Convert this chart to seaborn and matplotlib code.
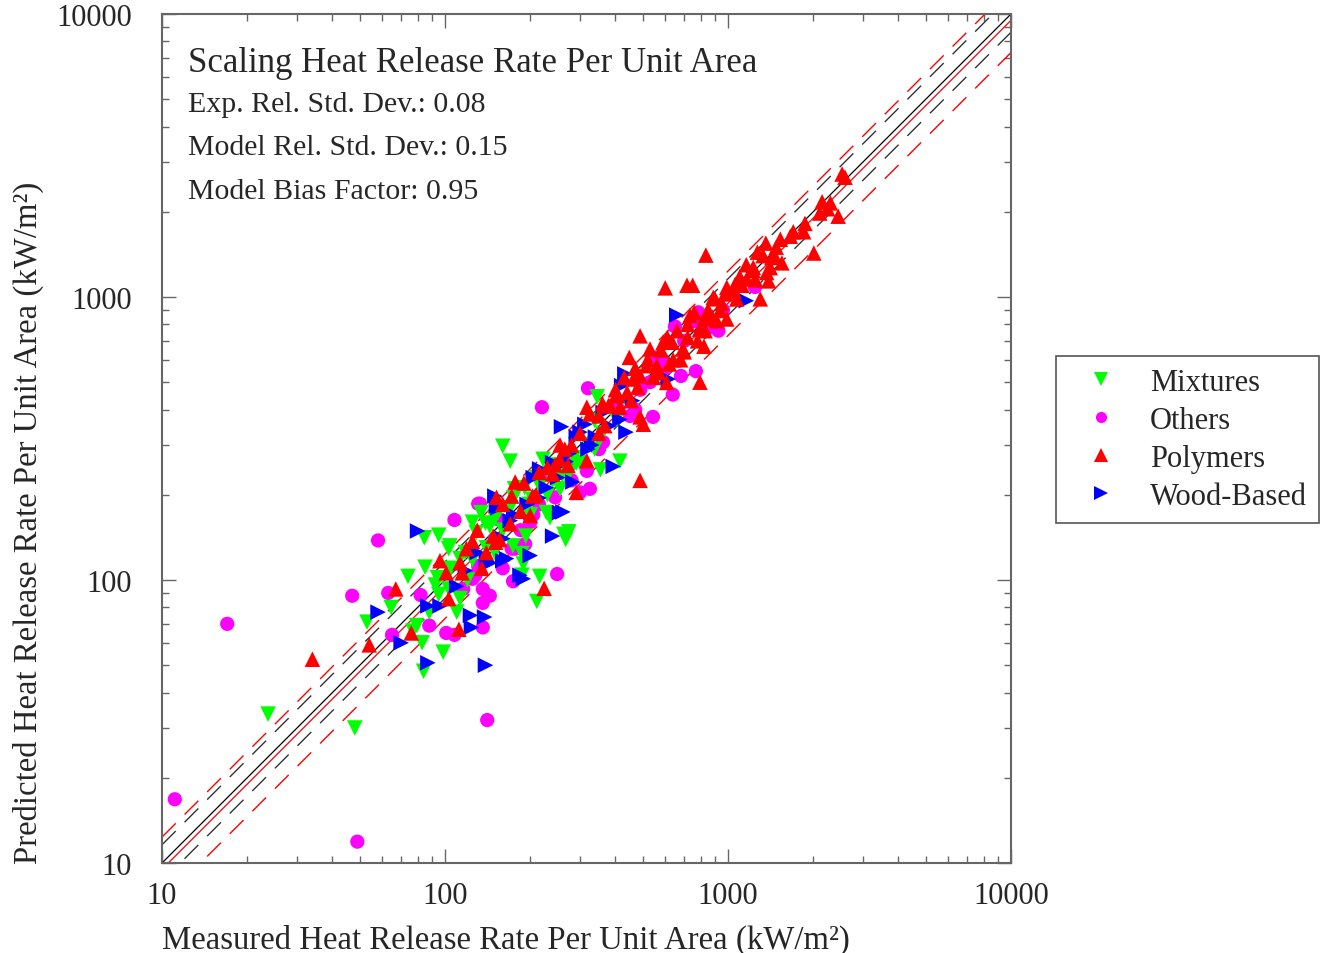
import numpy as np
import pandas as pd
import matplotlib
matplotlib.use("Agg")
import matplotlib.pyplot as plt
from matplotlib.ticker import NullFormatter
import seaborn as sns

# Heat release rate per unit area, kW/m² (measured vs. predicted)
mixtures_measured = [23.7, 48, 53, 64.5, 74, 84.5, 95, 85, 94, 92.5,
                     103, 95, 88, 110, 113, 79.5, 83, 77, 98.5, 84,
                     103, 113, 134, 139, 125, 129, 154, 174, 189, 187,
                     160, 170, 211, 216, 267, 274, 345, 415, 354, 338,
                     104, 193, 235, 263, 222, 216, 191, 204, 228, 291,
                     400, 144, 187, 338, 404, 118, 150, 245, 198, 285,
                     176, 260, 105, 125, 140, 160, 170, 200, 210, 230,
                     240, 255, 275, 300, 320, 360, 150, 120, 175, 265]
mixtures_predicted = [33.6, 30, 71, 80, 103, 141, 144, 111, 102, 96,
                      93, 89, 77, 77, 86, 69, 60, 66, 55.6, 47.6,
                      129, 119, 173, 159, 160, 147, 173, 132, 114, 124,
                      297, 263, 84, 103, 139, 148, 444, 263, 245, 290,
                      132, 143, 166, 145, 267, 215, 212, 193, 173, 259,
                      380, 155, 104, 366, 369, 125, 165, 255, 185, 270,
                      210, 235, 110, 118, 130, 150, 180, 170, 230, 200,
                      225, 210, 240, 260, 300, 330, 125, 100, 195, 275]

others_measured = [11.1, 17, 49, 58, 47, 141, 220, 249, 63, 65,
                   108, 320, 638, 682, 770, 543, 583, 785, 793, 925,
                   1245, 649, 560, 82, 88, 101, 108, 131, 116, 125,
                   136, 144, 136, 136, 131, 174, 172, 362, 317, 325,
                   300, 245, 133, 154, 192, 177, 128, 451, 205, 270,
                   410, 490, 150, 185, 215, 230, 280, 350, 400, 470,
                   530, 600, 700, 750, 860, 960, 160, 200]
others_predicted = [16.8, 70, 11.9, 138, 88, 32, 408, 105, 90, 64,
                    163, 476, 452, 526, 547, 377, 604, 883, 812, 760,
                    1085, 787, 612, 88.5, 69, 65, 64, 186, 93, 101,
                    93, 88, 83, 68, 112, 99, 129, 307, 243, 210,
                    204, 196, 186, 164, 134, 129, 104, 380, 170, 260,
                    400, 470, 140, 150, 185, 240, 225, 290, 420, 400,
                    500, 560, 700, 820, 780, 900, 110, 160]

polymers_measured = [34, 54, 224, 489, 835, 600, 716, 750, 796, 1300,
                     2010, 2450, 2530, 2590, 2150, 2110, 1870, 1660, 1530, 1550,
                     1470, 1360, 1270, 1160, 1226, 1100, 1060, 1410, 976, 900,
                     880, 823, 937, 793, 489, 448, 530, 590, 635, 693,
                     822, 734, 887, 990, 1073, 990, 912, 1228, 1370, 1164,
                     1390, 1430, 560, 489, 516, 463, 408, 415, 455, 383,
                     325, 367, 489, 502, 607, 317, 378, 405, 317, 291,
                     272, 254, 240, 177, 172, 152, 204, 200, 170, 148,
                     119, 113, 101, 140, 67, 96, 115, 103, 112, 76,
                     125, 156, 151, 2250, 1700, 640, 700, 350, 280, 230,
                     430, 470, 520, 545, 610, 660, 720, 760, 850, 950,
                     1050, 680, 580, 400, 360, 300, 265, 245, 215, 190,
                     185, 160, 130, 135, 210, 255, 350, 440, 480, 570,
                     620, 720, 780, 830, 1120, 1250, 1330, 1480, 1850, 2300]
polymers_predicted = [52.5, 59, 93.5, 225, 1406, 1077, 1100, 1100, 500, 985,
                      1430, 1930, 2720, 2650, 2170, 1980, 1820, 1640, 1600, 1320,
                      1380, 1550, 1440, 1300, 1240, 1180, 1110, 1270, 1025, 985,
                      850, 838, 896, 770, 729, 612, 655, 692, 692, 655,
                      670, 860, 997, 1082, 984, 836, 824, 1273, 1220, 1158,
                      1140, 1380, 572, 527, 572, 513, 448, 408, 430, 413,
                      386, 351, 377, 355, 499, 408, 413, 453, 264, 204,
                      254, 267, 237, 222, 198, 196, 198, 169, 158, 143,
                      129, 115, 106, 125, 93, 117, 106, 86, 67, 65,
                      137, 139, 136, 2050, 1700, 600, 640, 330, 300, 250,
                      520, 560, 600, 520, 720, 760, 800, 880, 900, 950,
                      1050, 600, 650, 470, 420, 330, 290, 255, 240, 220,
                      175, 185, 150, 110, 200, 300, 380, 460, 480, 540,
                      580, 720, 700, 760, 1100, 1150, 1400, 1500, 1700, 2150]

wood_measured = [80, 58, 87, 139, 70, 123, 138, 124, 96, 87,
                 189, 160, 144, 152, 258, 393, 254, 240, 216, 154,
                 150, 300, 291, 436, 415, 362, 165, 140, 184, 283,
                 1160, 659, 432, 421, 615, 261, 200, 228, 268, 330,
                 170, 118, 312, 205, 130, 175, 195, 215, 240, 250,
                 275, 320, 340, 380, 460, 160, 110]
wood_predicted = [149, 77, 51, 50, 60, 75, 74, 68, 81, 81,
                  101, 117, 115, 183, 348, 252, 173, 143, 247, 180,
                  198, 333, 320, 333, 369, 391, 119, 117, 104, 222,
                  970, 863, 535, 486, 513, 174, 122, 212, 262, 300,
                  162, 108, 355, 230, 125, 170, 185, 195, 260, 230,
                  280, 290, 320, 350, 430, 140, 95]

categories = ["Mixtures", "Others", "Polymers", "Wood-Based"]
colors = {"Mixtures": "#00ff00", "Others": "#ff00ff",
          "Polymers": "#ff0000", "Wood-Based": "#0000ff"}
markers = {"Mixtures": "v", "Others": "o", "Polymers": "^", "Wood-Based": ">"}
marker_area = {"Mixtures": 125, "Others": 105, "Polymers": 125, "Wood-Based": 125}

exp_rel_std = 0.08
model_rel_std = 0.15
bias_factor = 0.95
axis_ticks = [10, 100, 1000, 10000]

title = "Scaling Heat Release Rate Per Unit Area"
xlabel = "Measured Heat Release Rate Per Unit Area (kW/m²)"
ylabel = "Predicted Heat Release Rate Per Unit Area (kW/m²)"

# Stacking order of the point groups (later groups are drawn on top)
frames = []
for name, mx, py in [("Others", others_measured, others_predicted),
                     ("Mixtures", mixtures_measured, mixtures_predicted),
                     ("Wood-Based", wood_measured, wood_predicted),
                     ("Polymers", polymers_measured, polymers_predicted)]:
    frames.append(pd.DataFrame({"measured": mx, "predicted": py, "category": name}))
df = pd.concat(frames, ignore_index=True)

sns.set_style("ticks")
plt.rcParams["font.family"] = ["Liberation Serif", "DejaVu Serif"]

fig = plt.figure(figsize=(13.31, 9.54), dpi=100)
ax = fig.add_axes([0.1217, 0.0943, 0.6379, 0.8900])
ax.set_xscale("log")
ax.set_yscale("log")
lo, hi = axis_ticks[0], axis_ticks[-1]
ax.set_xlim(lo, hi)
ax.set_ylim(lo, hi)

# Reference lines: 1:1 with experimental uncertainty, and model bias with model uncertainty
line_x = np.array([lo, hi], dtype=float)
ax.plot(line_x, line_x, color="black", lw=0.9, zorder=1)
for f in (1 + 2 * exp_rel_std, 1 / (1 + 2 * exp_rel_std)):
    ax.plot(line_x, f * line_x, color="#333333", lw=1.0, dashes=(14, 9), zorder=1)
ax.plot(line_x, bias_factor * line_x, color="#ff0000", lw=0.9, zorder=1)
for f in (1 + 2 * model_rel_std, 1 / (1 + 2 * model_rel_std)):
    ax.plot(line_x, bias_factor * f * line_x, color="#ff0000", lw=1.0, dashes=(14, 9), zorder=1)

sns.scatterplot(data=df, x="measured", y="predicted", hue="category", style="category",
                size="category", hue_order=categories, style_order=categories,
                size_order=categories, sizes=marker_area, palette=colors,
                markers=markers, linewidth=0, alpha=1.0, ax=ax, zorder=3)

old = ax.get_legend()
handles = old.legend_handles
labels = [t.get_text() for t in old.get_texts()]
old.remove()
for h, lab in zip(handles, labels):
    h.set_markersize(8 if lab == "Others" else 9.5)
    h.set_markeredgewidth(0)
leg = ax.legend(handles, labels, loc="upper left",
                bbox_to_anchor=(1056 / 1331, 1 - 357 / 954),
                bbox_transform=fig.transFigure, fontsize=22, frameon=True,
                fancybox=False, framealpha=1, edgecolor="#555555",
                handlelength=2.2, handletextpad=0.5, borderpad=0.38,
                labelspacing=0.3, borderaxespad=0)
leg.get_frame().set_linewidth(1.2)

ax.set_xticks(axis_ticks, labels=[str(t) for t in axis_ticks])
ax.set_yticks(axis_ticks, labels=[str(t) for t in axis_ticks])
ax.xaxis.set_minor_formatter(NullFormatter())
ax.yaxis.set_minor_formatter(NullFormatter())
ax.tick_params(which="both", direction="in", top=True, right=True,
               color="#666666", labelsize=22)
ax.tick_params(which="major", length=10, width=1.0)
ax.tick_params(which="minor", length=5, width=1.0)
ax.tick_params(axis="x", pad=13)
ax.tick_params(axis="y", pad=21.5)
for sp in ax.spines.values():
    sp.set_visible(True)
    sp.set_color("#666666")
    sp.set_linewidth(1.5)

ax.set_xlabel(xlabel, fontsize=23.6, loc="left", labelpad=10)
ax.set_ylabel(ylabel, fontsize=23.6, loc="bottom", labelpad=9)

ax.text(0.0306, 0.943, title, transform=ax.transAxes, fontsize=25, va="center", ha="left")
ax.text(0.0306, 0.8935, f"Exp. Rel. Std. Dev.: {exp_rel_std:.2f}", transform=ax.transAxes,
        fontsize=21.5, va="center", ha="left")
ax.text(0.0306, 0.843, f"Model Rel. Std. Dev.: {model_rel_std:.2f}", transform=ax.transAxes,
        fontsize=21.5, va="center", ha="left")
ax.text(0.0306, 0.792, f"Model Bias Factor: {bias_factor:.2f}", transform=ax.transAxes,
        fontsize=21.5, va="center", ha="left")

fig.savefig("out.png", dpi=100)
